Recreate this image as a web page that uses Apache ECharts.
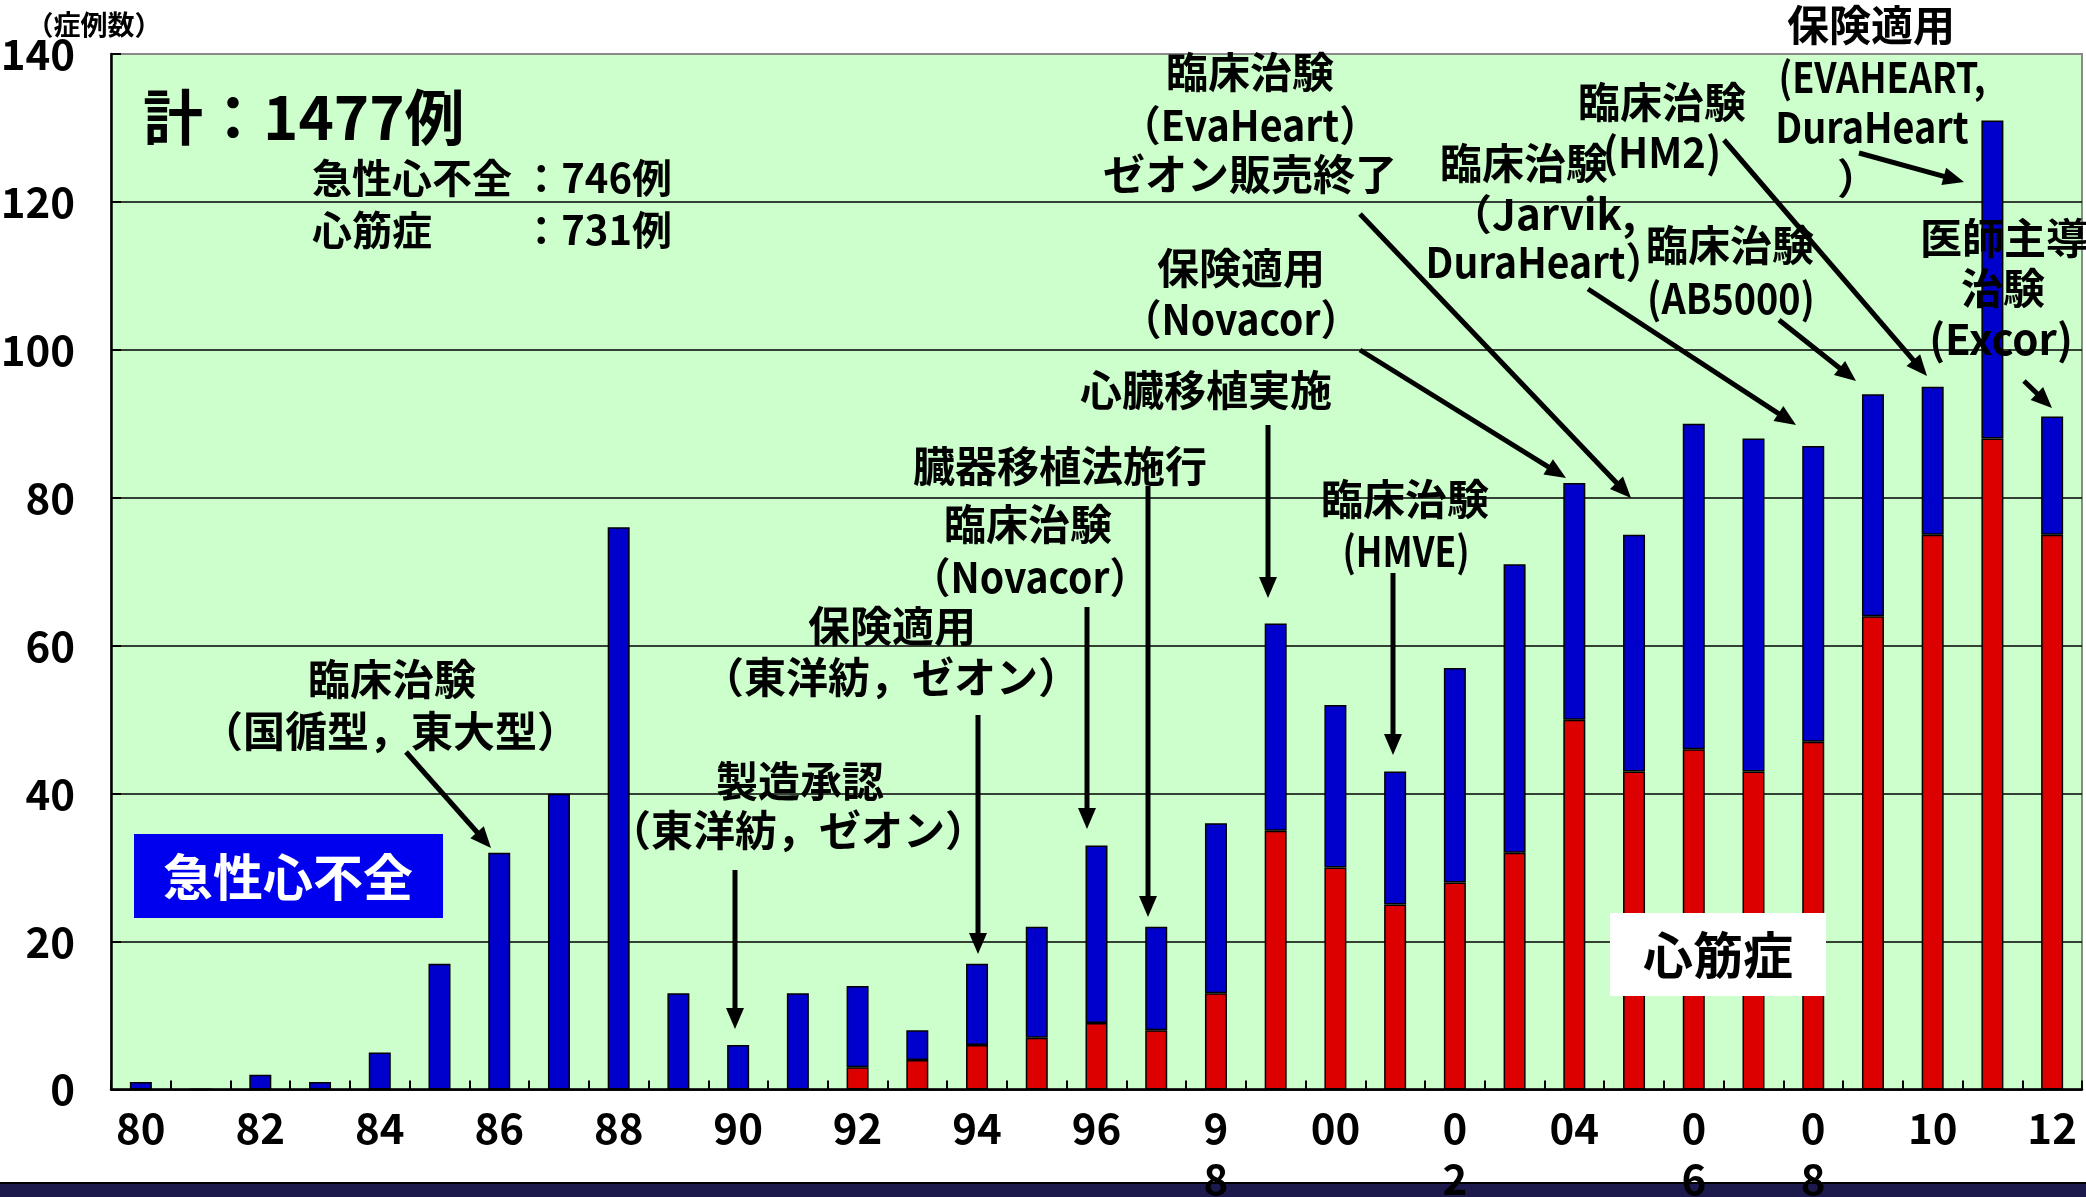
<!DOCTYPE html>
<html>
<head>
<meta charset="utf-8">
<script src="https://cdn.jsdelivr.net/npm/echarts@6/dist/echarts.min.js"></script>
<style>
html,body{margin:0;padding:0;background:#fff;}
#chart{width:2086px;height:1197px;}
</style>
</head>
<body>
<div id="chart"></div>
<script>
// ---- data ----
const years = ['80','81','82','83','84','85','86','87','88','89','90','91','92','93','94','95','96','97','98','99','00','01','02','03','04','05','06','07','08','09','10','11','12'];
// 心筋症 (cardiomyopathy) - red, bottom of stack
const cardiomyopathy = [0,0,0,0,0,0,0,0,0,0,0,0,3,4,6,7,9,8,13,35,30,25,28,32,50,43,46,43,47,64,75,88,75];
// 急性心不全 (acute heart failure) - blue, top of stack
const acuteHF = [1,0,2,1,5,17,32,40,76,13,6,13,11,4,11,15,24,14,23,28,22,18,29,39,32,32,44,45,40,30,20,43,16];
const tickLabels = ['80','82','84','86','88','90','92','94','96','9\n8','00','0\n2','04','0\n6','0\n8','10','12'];
const yTicks = [0,20,40,60,80,100,120,140];

const FONT = '"Noto Sans CJK JP", sans-serif';
const chart = echarts.init(document.getElementById('chart'), null, {renderer:'canvas'});

function txt(text, x, y, size, opts) {
  opts = opts || {};
  return {
    type: 'text', z: 50,
    x: x, y: y, scaleX: opts.sx || 1, scaleY: 1,
    style: {
      text: text, x: 0, y: 0,
      font: 'bold ' + size + 'px ' + FONT,
      fill: opts.fill || '#000',
      textAlign: opts.align || 'center',
      textVerticalAlign: 'middle'
    }
  };
}
function arrow(x1, y1, x2, y2) {
  const dx = x2 - x1, dy = y2 - y1;
  const len = Math.sqrt(dx*dx + dy*dy);
  const ux = dx/len, uy = dy/len;
  const hl = 21, hw = 9;
  const bx = x2 - ux*hl, by = y2 - uy*hl;
  return {
    type: 'group', z: 50,
    children: [
      {type:'line', z:50, shape:{x1:x1,y1:y1,x2:bx+ux*2,y2:by+uy*2}, style:{stroke:'#000', lineWidth:5}},
      {type:'polygon', z:50, shape:{points:[[x2,y2],[bx - uy*hw, by + ux*hw],[bx + uy*hw, by - ux*hw]]}, style:{fill:'#000'}}
    ]
  };
}

const graphics = [
  {type:'rect', z:-10, shape:{x:0,y:1183,width:2086,height:14}, style:{fill:'#1c1a4c'}},
  {type:'line', z:-9, shape:{x1:0,y1:1183,x2:2086,y2:1183}, style:{stroke:'#000',lineWidth:2}},
  txt('（症例数）', 94, 25, 27),
  txt('計：1477例', 143, 117, 60, {align:'left'}),
  txt('急性心不全', 312, 178, 40, {align:'left'}),
  txt('：746例', 672, 178, 40, {align:'right'}),
  txt('心筋症', 312, 230, 40, {align:'left'}),
  txt('：731例', 672, 230, 40, {align:'right'}),
  {type:'rect', z:40, shape:{x:134,y:834,width:309,height:84}, style:{fill:'#0000ee'}},
  txt('急性心不全', 288, 877, 50, {fill:'#fff'}),
  {type:'rect', z:40, shape:{x:1610,y:913,width:216,height:83}, style:{fill:'#fff'}},
  txt('心筋症', 1718, 955, 50),
  // A
  txt('臨床治験', 392, 679, 42), txt('（国循型，東大型）', 390, 731, 42), arrow(406,752,491,848),
  // B
  txt('製造承認', 800, 781, 42), txt('（東洋紡，ゼオン）', 798, 830, 42), arrow(735,870,735,1029),
  // C
  txt('保険適用', 892, 626, 42), txt('（東洋紡，ゼオン）', 891, 677, 42), arrow(978,715,978,954),
  // D
  txt('臨床治験', 1028, 524, 42), txt('（Novacor）', 1030, 577, 42, {sx:0.93}), arrow(1087,607,1087,829),
  // E
  txt('臓器移植法施行', 1060, 466, 42), arrow(1148,486,1148,917),
  // F
  txt('心臓移植実施', 1206, 390, 42), arrow(1268,425,1268,598),
  // G
  txt('保険適用', 1241, 268, 42), txt('（Novacor）', 1241, 319, 42, {sx:0.93}), arrow(1360,350,1566,478),
  // H
  txt('臨床治験', 1250, 72, 42), txt('（EvaHeart）', 1250, 125, 42, {sx:0.94}), txt('ゼオン販売終了', 1250, 174, 42), arrow(1360,214,1631,498),
  // I
  txt('臨床治験', 1524, 163, 42), txt('（Jarvik,', 1543, 214, 42), txt('DuraHeart）', 1545, 262, 42, {sx:0.93}), arrow(1588,289,1796,425),
  // J
  txt('臨床治験', 1662, 102, 42), txt('(HM2)', 1662, 152, 42, {sx:0.95}), arrow(1724,140,1927,376),
  // K
  txt('臨床治験', 1730, 245, 42), txt('(AB5000)', 1731, 298, 42, {sx:0.9}), arrow(1779,320,1856,381),
  // L
  txt('保険適用', 1871, 25, 42), txt('(EVAHEART,', 1882, 77, 42, {sx:0.86}), txt('DuraHeart', 1872, 127, 42, {sx:0.9}), txt('）', 1858, 178, 42), arrow(1859,153,1964,182),
  // M
  txt('医師主導', 2004, 238, 42), txt('治験', 2003, 288, 42), txt('(Excor)', 2001, 339, 42), arrow(2024,381,2052,408),
  // N
  txt('臨床治験', 1405, 499, 42), txt('(HMVE)', 1406, 551, 42, {sx:0.84}), arrow(1393,573,1393,755)
];

const option = {
  backgroundColor: '#fff',
  animation: false,
  grid: {left:111, right:4, top:54, bottom:107.5, containLabel:false, outerBoundsMode:'none',
         show:true, backgroundColor:'#ccffcc', borderColor:'#8a8a8a', borderWidth:2},
  xAxis: {
    type:'category', data: years,
    axisLine:{show:true, lineStyle:{color:'#000', width:2.5}},
    axisTick:{show:true, inside:true, length:9, interval:0, lineStyle:{color:'#000', width:2}},
    axisLabel:{
      interval:0, margin:13, color:'#000', fontSize:42, fontWeight:'bold', fontFamily:FONT, lineHeight:51,
      formatter:function(v, i){ return i % 2 === 0 ? tickLabels[i/2] : ''; }
    },
    splitLine:{show:false}
  },
  yAxis: {
    type:'value', min:yTicks[0], max:yTicks[yTicks.length-1], interval:20,
    axisLine:{show:true, lineStyle:{color:'#000', width:2.5}},
    axisTick:{show:true, inside:true, length:10, lineStyle:{color:'#000', width:2}},
    axisLabel:{margin:36, color:'#000', fontSize:42, fontWeight:'bold', fontFamily:FONT},
    splitLine:{show:true, lineStyle:{color:['#000','#000','#000','#000','#000','#000','#000','#8a8a8a'], width:1.6}}
  },
  series: [
    {name:'心筋症', type:'bar', stack:'total', data:cardiomyopathy, barWidth:22,
     itemStyle:{color:'#dd0000', borderColor:'#000', borderWidth:1.5}},
    {name:'急性心不全', type:'bar', stack:'total', data:acuteHF, barWidth:22,
     itemStyle:{color:'#0000cc', borderColor:'#000', borderWidth:1.5}}
  ],
  graphic: graphics
};
chart.setOption(option);
</script>
</body>
</html>
